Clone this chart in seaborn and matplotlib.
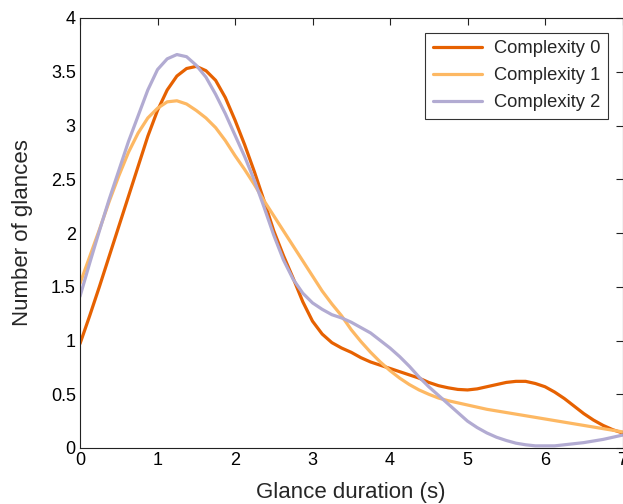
import numpy as np
import pandas as pd
import matplotlib
matplotlib.use("Agg")
import matplotlib.pyplot as plt
import seaborn as sns

# sample positions (s), every 0.125 s from 0 to 7
duration = np.linspace(0, 7, 57)
complexity0 = [0.97, 1.23, 1.50, 1.78, 2.06, 2.34, 2.62, 2.90, 3.14, 3.33, 3.46, 3.53, 3.55, 3.51,
               3.42, 3.26, 3.05, 2.82, 2.57, 2.30, 2.02, 1.79, 1.58, 1.36, 1.18, 1.06, 0.98, 0.93,
               0.89, 0.84, 0.80, 0.77, 0.74, 0.71, 0.68, 0.65, 0.61, 0.58, 0.56, 0.545, 0.54, 0.55,
               0.57, 0.59, 0.61, 0.62, 0.62, 0.60, 0.57, 0.52, 0.46, 0.39, 0.32, 0.26, 0.21, 0.17, 0.14]
complexity1 = [1.53, 1.78, 2.03, 2.29, 2.53, 2.75, 2.93, 3.07, 3.16, 3.22, 3.23, 3.20, 3.14, 3.07,
               2.98, 2.86, 2.72, 2.59, 2.45, 2.30, 2.16, 2.02, 1.88, 1.74, 1.60, 1.46, 1.34, 1.23,
               1.10, 0.99, 0.89, 0.80, 0.72, 0.65, 0.59, 0.54, 0.50, 0.465, 0.44, 0.42, 0.40, 0.38,
               0.36, 0.345, 0.33, 0.315, 0.30, 0.285, 0.27, 0.255, 0.24, 0.225, 0.21, 0.195, 0.18, 0.165, 0.15]
complexity2 = [1.41, 1.72, 2.02, 2.31, 2.58, 2.85, 3.09, 3.33, 3.52, 3.62, 3.66, 3.64, 3.56, 3.45,
               3.29, 3.11, 2.91, 2.71, 2.49, 2.24, 1.98, 1.75, 1.57, 1.44, 1.35, 1.29, 1.24, 1.21,
               1.17, 1.12, 1.07, 1.00, 0.93, 0.85, 0.76, 0.66, 0.57, 0.49, 0.41, 0.33, 0.25, 0.19,
               0.14, 0.10, 0.07, 0.045, 0.03, 0.02, 0.02, 0.02, 0.03, 0.04, 0.05, 0.065, 0.08, 0.10, 0.12]
series_names = ["Complexity 0", "Complexity 1", "Complexity 2"]
colors = ["#e66101", "#fdb863", "#b2abd2"]
xticks = [0, 1, 2, 3, 4, 5, 6, 7]
yticks = [0, 0.5, 1, 1.5, 2, 2.5, 3, 3.5, 4]

df = pd.concat([
    pd.DataFrame({"x": duration, "y": vals, "series": name})
    for name, vals in zip(series_names, [complexity0, complexity1, complexity2])
])

sns.set_style("white")
plt.rcParams["font.family"] = ["Liberation Sans", "DejaVu Sans"]

fig = plt.figure(figsize=(6.23, 5.04), dpi=100)
ax = fig.add_axes([80/623, 1-448/504, 542.5/623, 430/504])
sns.lineplot(data=df, x="x", y="y", hue="series", palette=colors, linewidth=2.3,
             ax=ax, legend=True, estimator=None, sort=False)

ax.set_xlim(0, 7)
ax.set_ylim(0, 4)
ax.set_xticks(xticks)
ax.set_yticks(yticks)
ax.set_xticklabels([f"{t:g}" for t in xticks])
ax.set_yticklabels([f"{t:g}" for t in yticks])
ax.tick_params(direction="in", length=5, width=0.8, top=True, right=True,
               labelsize=13, colors="#222222", labelcolor="black", pad=3)
for s in ax.spines.values():
    s.set_visible(True)
    s.set_color("#222222")
    s.set_linewidth(0.8)
ax.set_xlabel("Glance duration (s)", fontsize=16, labelpad=9)
ax.set_ylabel("Number of glances", fontsize=16, labelpad=13)

leg = ax.legend(loc="upper right", fontsize=13.2, frameon=True, fancybox=False,
                edgecolor="black", handlelength=2.7, borderaxespad=0.8,
                borderpad=0.4, labelspacing=0.55, handletextpad=0.65)
leg.get_frame().set_linewidth(0.8)
for line in leg.get_lines():
    line.set_linewidth(2.3)

fig.savefig("out.png", dpi=100)
